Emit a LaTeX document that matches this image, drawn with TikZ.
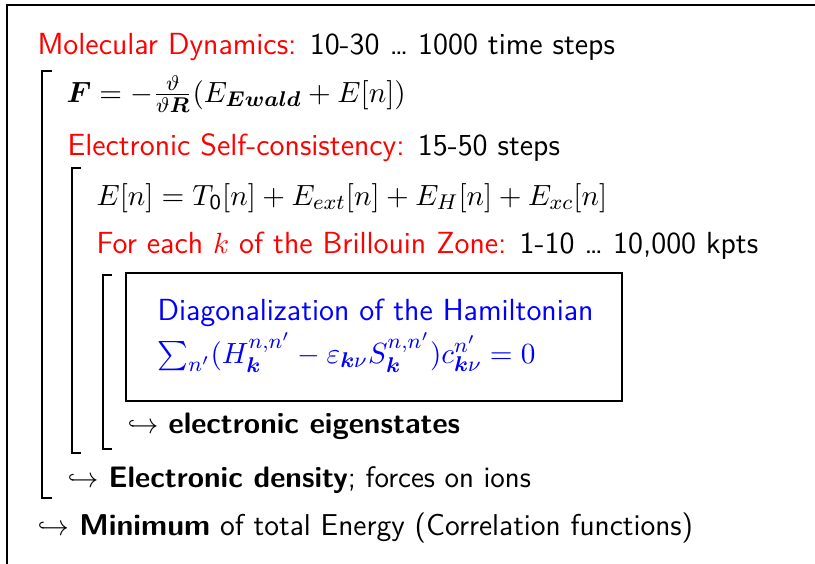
\documentclass[tikz,border=0pt]{standalone}
\usepackage{amsmath,bm}
\begin{document}
\begin{tikzpicture}[x=0.375pt,y=-0.375pt,
  txt/.style={anchor=base west,inner sep=0pt,font=\fontsize{11.45}{13.5}\selectfont\sffamily},
  mth/.style={anchor=base west,inner sep=0pt,font=\fontsize{11.2}{13.5}\selectfont\sffamily},
  bx/.style={scale=0.97},
  brk/.style={line width=0.7pt},
  frame/.style={line width=0.9pt}]
\useasboundingbox (0,0) rectangle (815,563);
\clip (0,0) rectangle (815,563);
\draw[frame] (7,580) -- (7,5) -- (830,5);
% text lines
\node[txt] (l1) at (37,54) {\textcolor{red}{Molecular Dynamics:} 10-30 \dots\ 1000 time steps};
\node[mth] (l2) at (66,102) {$\bm{F}=-\frac{\vartheta}{\vartheta\bm{R}}(E_{\bm{Ewald}}+E[n])$};
\node[txt] (l3) at (67,155) {\textcolor{red}{Electronic Self-consistency:} 15-50 steps};
\node[mth] (l4) at (96,205) {$E[n]=T_{\mathsf{0}}[n]+E_{ext}[n]+E_{H}[n]+E_{xc}[n]$};
\node[txt] (l5) at (96,253) {\textcolor{red}{For each $k$ of the Brillouin Zone:} 1-10 \dots\ 10,000 kpts};
\node[draw,line width=0.9pt,minimum width=496*0.375pt,minimum height=128*0.375pt,anchor=north west,inner sep=0pt] (box) at (125,272) {};
\node[txt,text=blue] (d1) at (157,320) {Diagonalization of the Hamiltonian};
\node[mth,text=blue] (d2) at (157,363) {$\sum_{n'}(H_{\bm{k}}^{n,n'}-\varepsilon_{\bm{k}\nu}S_{\bm{k}}^{n,n'})c_{\bm{k}\nu}^{n'}=0$};
\node[txt,bx] (l7) at (127,433) {$\hookrightarrow$ \textbf{electronic eigenstates}};
\node[txt,bx] (l8) at (67,487) {$\hookrightarrow$ \textbf{Electronic density}; forces on ions};
\node[txt,scale=0.987] (l9) at (37,535) {$\hookrightarrow$ \textbf{Minimum} of total Energy (Correlation functions)};
% brackets
\draw[brk] (52,71) -- (42,71) -- (42,498) -- (52,498);
\draw[brk] (81,168) -- (72,168) -- (72,453) -- (81,453);
\draw[brk] (112,275) -- (103,275) -- (103,449) -- (112,449);
\end{tikzpicture}
\end{document}
